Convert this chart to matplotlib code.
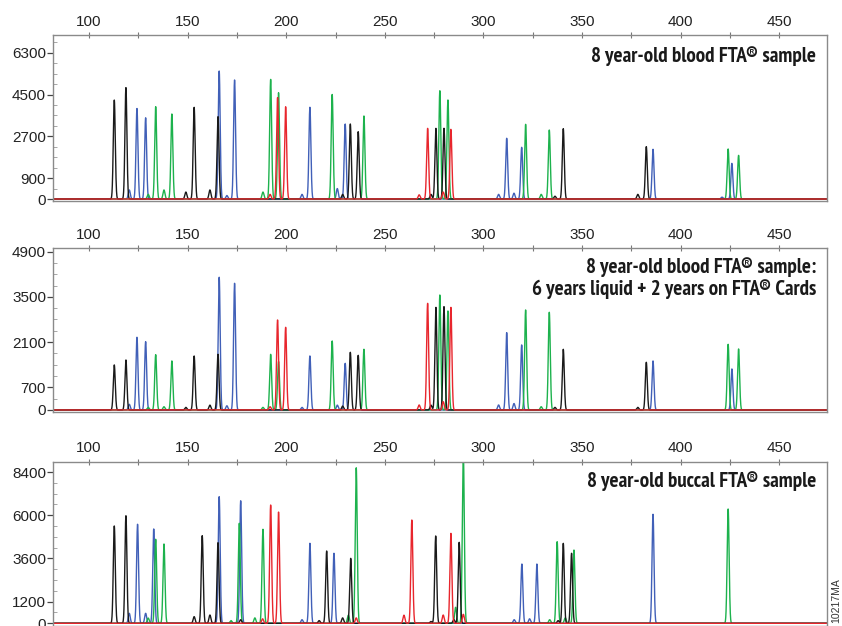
import numpy as np
import matplotlib.pyplot as plt
from matplotlib import font_manager
from matplotlib.ticker import MultipleLocator, FixedLocator

# Peak lists: (size in bp, height in RFU)
TOP_BLACK = [(112.8, 4260), (118.7, 4800), (149.1, 300), (153.3, 3950), (161.3, 390),
             (165.4, 3545), (228.6, 200), (232.5, 3230), (236.5, 2900), (273.4, 200),
             (275.9, 3045), (280.0, 3045), (336.3, 120), (340.5, 3030), (378.3, 200),
             (382.6, 2255)]
TOP_BLUE = [(120.4, 390), (124.3, 3900), (128.7, 3500), (166.0, 5510), (169.9, 150),
            (173.8, 5125), (208.0, 200), (212.0, 3950), (225.9, 450), (229.9, 3230),
            (307.7, 200), (311.8, 2615), (315.5, 250), (319.4, 2225), (386.0, 2140),
            (421.0, 80), (426.0, 1535)]
TOP_GREEN = [(130.0, 200), (133.8, 3975), (138.0, 390), (142.0, 3660), (188.2, 300),
             (192.1, 5155), (196.1, 4580), (223.3, 4505), (239.4, 3575), (277.9, 4665),
             (282.0, 4264), (321.4, 3215), (329.3, 200), (333.4, 2970), (424.1, 2155),
             (429.4, 1880)]
TOP_RED = [(191.8, 200), (195.6, 4365), (199.7, 3975), (267.4, 180), (271.7, 3045),
           (279.6, 300), (283.5, 3000)]

MID_BLACK = [(112.8, 1393), (118.7, 1548), (149.1, 80), (153.3, 1671), (161.3, 150),
             (165.4, 1723), (228.6, 120), (232.5, 1785), (236.5, 1692), (273.4, 150),
             (275.9, 3178), (280.0, 3198), (336.3, 80), (340.5, 1878), (378.3, 80),
             (382.6, 1476)]
MID_BLUE = [(120.4, 175), (124.3, 2250), (128.7, 2115), (166.0, 4107), (169.9, 130),
            (173.8, 3920), (208.0, 80), (212.0, 1671), (225.9, 150), (229.9, 1444),
            (307.7, 155), (311.8, 2393), (315.5, 200), (319.4, 2012), (386.0, 1517),
            (426.0, 1269)]
MID_GREEN = [(130.0, 80), (133.8, 1712), (138.0, 100), (142.0, 1517), (188.2, 80),
             (192.1, 1723), (196.1, 1500), (223.3, 2136), (239.4, 1878), (277.9, 3559),
             (282.0, 3064), (321.4, 3095), (329.3, 100), (333.4, 3023), (424.1, 2033),
             (429.4, 1888)]
MID_RED = [(191.8, 100), (195.6, 2785), (199.7, 2560), (267.4, 155), (271.7, 3302),
           (279.6, 257), (283.5, 3178)]

BOT_BLACK = [(112.8, 5405), (118.7, 5978), (153.3, 370), (157.4, 4867), (161.3, 460),
             (165.4, 4478), (176.9, 200), (216.7, 150), (220.5, 4017), (228.6, 300),
             (232.7, 3611), (273.4, 100), (275.8, 4850), (285.0, 200), (287.7, 4500),
             (337.9, 150), (340.5, 4444), (344.7, 3889)]
BOT_BLUE = [(120.4, 555), (124.6, 5500), (128.7, 555), (132.8, 5240), (166.0, 7033),
            (176.9, 6811), (208.0, 200), (212.0, 4444), (224.2, 3889), (315.6, 200),
            (319.5, 3294), (323.4, 250), (327.1, 3294), (386.0, 6055)]
BOT_GREEN = [(130.0, 290), (133.8, 4667), (138.0, 4405), (172.0, 150), (176.2, 5555),
             (184.1, 300), (188.2, 5222), (231.5, 450), (235.5, 8644), (285.9, 889),
             (289.8, 9500), (333.6, 200), (337.4, 4533), (341.5, 300), (345.9, 4072),
             (424.1, 6350)]
BOT_RED = [(188.0, 250), (192.1, 6572), (196.1, 6183), (235.5, 300), (259.7, 450),
           (263.7, 5739), (279.6, 460), (283.5, 5000), (289.8, 500)]

TITLES = ["8 year-old blood FTA\u00ae sample",
          "8 year-old blood FTA\u00ae sample:\n6 years liquid + 2 years on FTA\u00ae Cards",
          "8 year-old buccal FTA\u00ae sample"]
YTICKS = [[0, 900, 2700, 4500, 6300],
          [0, 700, 2100, 3500, 4900],
          [0, 1200, 3600, 6000, 8400]]
YMINOR = [450, 350, 600]
YLIMS = [(-86, 7063), (-62, 5014), (-150, 8978)]
XTICKS = [100, 150, 200, 250, 300, 350, 400, 450]

COLORS = {"blue": "#4160b8", "green": "#1db24d", "black": "#1a1a1a", "red": "#e8262d"}
PEAK_SIGMA = 0.5


def narrow_bold_font(size):
    # look for a condensed / narrow bold face among the installed fonts
    narrow = ("condensed", "narrow")
    best = None
    for f in font_manager.fontManager.ttflist:
        low = (f.name + " " + f.fname).lower()
        w = f.weight if isinstance(f.weight, int) else 400
        if "bold" in str(f.weight).lower():
            w = 700
        if not any(k in low for k in narrow) and "condensed" not in str(f.stretch):
            continue
        if "extra" in low or "ultra" in low or "semi" in low or "italic" in low:
            continue
        if w < 600 or "mono" in low or "serif" in low.replace("sans", ""):
            continue
        rank = 0 if "narrow" in low else (1 if "noto" in low or "roboto" in low else 2)
        if best is None or rank < best[0]:
            best = (rank, f.fname)
    if best:
        return dict(fontproperties=font_manager.FontProperties(fname=best[1], size=size))
    return dict(family="Roboto", fontweight="bold", fontsize=size - 1.5)


title_font = narrow_bold_font(15.2)
plt.rcParams["font.family"] = ["Liberation Sans", "DejaVu Sans"]

panels = [
    (TOP_BLUE, TOP_GREEN, TOP_BLACK, TOP_RED),
    (MID_BLUE, MID_GREEN, MID_BLACK, MID_RED),
    (BOT_BLUE, BOT_GREEN, BOT_BLACK, BOT_RED),
]
# axes boxes in figure fractions: left, bottom, width, height
boxes = [(0.0629, 0.6789, 0.9192, 0.2652),
         (0.0629, 0.3419, 0.9192, 0.2620),
         (0.0629, 0.0, 0.9192, 0.2625)]
title_y = [0.873, 0.817, 0.883]

x = np.arange(80, 476, 0.04)


def trace(peaks):
    y = np.zeros_like(x)
    for pos, h in peaks:
        y += h * np.exp(-0.5 * ((x - pos) / PEAK_SIGMA) ** 2)
    return y


fig = plt.figure(figsize=(8.42, 6.26), dpi=100)

for i, dyes in enumerate(panels):
    ax = fig.add_axes(boxes[i])
    for peaks, cname in zip(dyes, ["blue", "green", "black", "red"]):
        ax.plot(x, trace(peaks), color=COLORS[cname], lw=1.0)

    ax.set_xlim(81.7, 474.2)
    ax.set_ylim(*YLIMS[i])

    ax.xaxis.tick_top()
    ax.set_xticks(XTICKS)
    ax.xaxis.set_minor_locator(FixedLocator([125, 175, 225, 275, 325, 375, 425]))
    ax.tick_params(axis="x", which="both", direction="inout", length=5, width=0.8,
                   color="#777777", labelsize=11, labelcolor="#222222", pad=2)

    ax.set_yticks(YTICKS[i])
    ax.yaxis.set_minor_locator(MultipleLocator(YMINOR[i]))
    ax.tick_params(axis="y", which="major", direction="out", length=4, width=0.9,
                   color="#444444", labelsize=11, labelcolor="#222222", pad=1)
    ax.tick_params(axis="y", which="minor", direction="in", length=3, width=0.6,
                   color="#999999")

    for s in ax.spines.values():
        s.set_color("#8a8a8a")
        s.set_linewidth(1.0)

    ax.text(0.986, title_y[i], TITLES[i], transform=ax.transAxes, ha="right",
            va="center", color="#1a1a1a", linespacing=1.1, **title_font)

fig.text(0.9935, 0.04, "10217MA", rotation=90, ha="center", va="center",
         fontsize=7.5, color="#333333")

fig.savefig("out.png", dpi=100)
